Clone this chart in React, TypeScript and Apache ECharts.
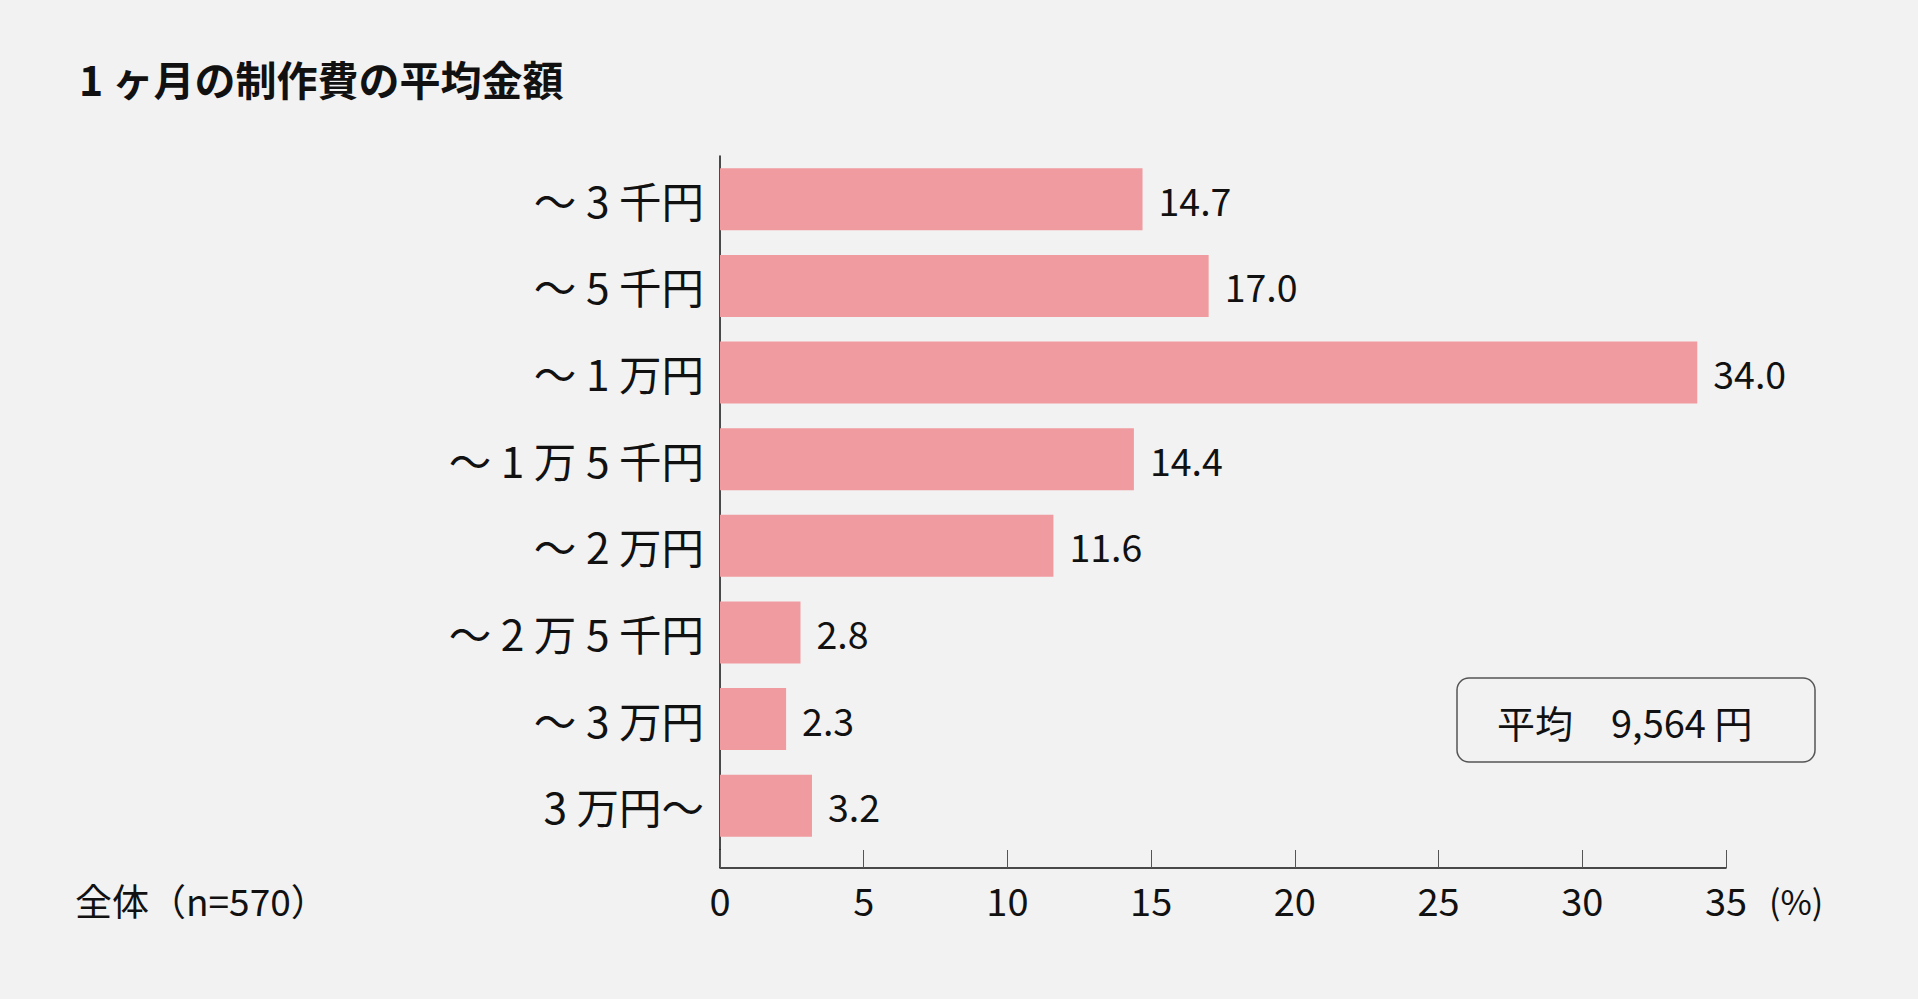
import React, { useEffect, useRef } from 'react';
import * as echarts from 'echarts';

const categories = ['〜 3 千円', '〜 5 千円', '〜 1 万円', '〜 1 万 5 千円', '〜 2 万円', '〜 2 万 5 千円', '〜 3 万円', '3 万円〜'];
const shares = [14.7, 17.0, 34.0, 14.4, 11.6, 2.8, 2.3, 3.2];
const xMin = 0;
const xMax = 35;
const xStep = 5;

const FONT = '"Noto Sans CJK JP", "Noto Sans", sans-serif';
const INK = '#111';

export default function App() {
  const ref = useRef<HTMLDivElement>(null);
  useEffect(() => {
    document.body.style.margin = '0';
    if (!ref.current) return;
    const chart = echarts.init(ref.current, null, { renderer: 'svg' });
    const left = 720, top = 156, right = 192, bottom = 150;
    chart.setOption({
      animation: false,
      backgroundColor: '#f2f2f2',
      textStyle: { fontFamily: FONT, color: INK },
      grid: { left, top, right, bottom, containLabel: false },
      xAxis: {
        type: 'value', min: xMin, max: xMax, interval: xStep, offset: 19,
        axisLine: { show: true, lineStyle: { color: '#111', width: 1.5 } },
        axisTick: { show: true, inside: true, length: 18, lineStyle: { color: '#555', width: 1 } },
        axisLabel: { fontSize: 38, color: INK, fontFamily: FONT, margin: 12 },
        splitLine: { show: false },
      },
      yAxis: {
        type: 'category', inverse: true, data: categories,
        axisLine: { show: true, lineStyle: { color: '#111', width: 1.5 } },
        axisTick: { show: false },
        axisLabel: { fontSize: 42.5, color: INK, fontFamily: FONT, margin: 16 },
      },
      series: [{
        type: 'bar', data: shares, barWidth: 62,
        itemStyle: { color: '#f09b9f' },
        label: {
          show: true, position: 'right', distance: 16, fontSize: 37.5, color: INK, fontFamily: FONT,
          formatter: (p: any) => Number(p.value).toFixed(1),
        },
      }],
      graphic: [
        { type: 'line', shape: { x1: left, y1: 999 - bottom, x2: left, y2: 999 - bottom + 19 }, style: { stroke: '#111', lineWidth: 1.5 } },
        { type: 'text', x: 79, y: 78, style: { text: '1 ヶ月の制作費の平均金額', font: `bold 41px ${FONT}`, fill: INK, verticalAlign: 'middle' } },
        { type: 'text', x: 75, y: 900, style: { text: '全体（n=570）', font: `37px ${FONT}`, fill: INK, verticalAlign: 'middle' } },
        { type: 'text', x: 1769, y: 900, style: { text: '(%)', font: `34px ${FONT}`, fill: INK, verticalAlign: 'middle' } },
        { type: 'rect', shape: { x: 1457, y: 678, width: 358, height: 84, r: 12 }, style: { fill: 'none', stroke: '#555', lineWidth: 1.5 } },
        { type: 'text', x: 1497, y: 721, style: { text: '平均　9,564 円', font: `38px ${FONT}`, fill: INK, verticalAlign: 'middle' } },
      ],
    });
    return () => { chart.dispose(); };
  }, []);
  return <div ref={ref} style={{ width: '1918px', height: '999px' }} />;
}
